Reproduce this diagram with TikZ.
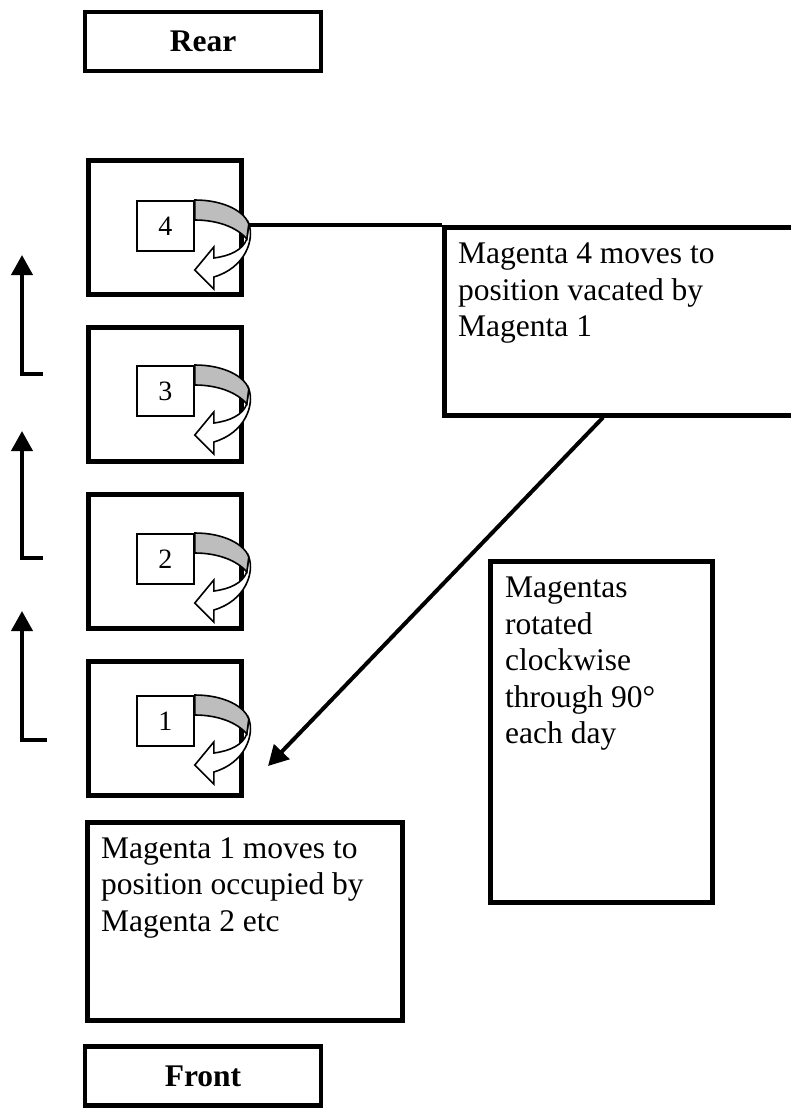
\documentclass[tikz,border=0pt]{standalone}
\usepackage{fontspec}
\setmainfont{Liberation Serif}
\usepackage{tikz}
\usetikzlibrary{arrows.meta, positioning, calc}
\definecolor{mgray}{HTML}{BDBDBD}
\tikzset{
  endbox/.style={draw, line width=4.5pt, minimum width=236pt, minimum height=59pt,
                 inner sep=0pt, font=\fontsize{31.5}{36.5}\selectfont\bfseries},
  square/.style={draw, line width=4.5pt, minimum width=153pt, minimum height=134pt,
                 anchor=north west, inner sep=0pt},
  tag/.style={draw, line width=1.8pt, minimum width=57pt, minimum height=50pt,
              anchor=north west, inner sep=0pt, font=\fontsize{28}{30}\selectfont},
  notebox/.style={draw, line width=4.5pt, anchor=north west, inner sep=0pt},
  notetext/.style={anchor=north west, inner sep=0pt, align=left,
                   font=\fontsize{31.5}{36.5}\selectfont},
  moveline/.style={line width=4pt},
  movearrow/.style={line width=4pt, -{Triangle[length=20pt, width=21pt]}},
  turngray/.style={draw=black, fill=mgray, line width=1.6pt},
  turnback/.style={draw=black, fill=white, line width=1.6pt},
}
% curved turn arrow, #1 = north east corner of a tag box
\newcommand{\turnarrow}[2]{%
  \begin{scope}[shift={(#1)}]
    \filldraw[turnback] (54,24) .. controls (60,40) and (50,68) .. (19,77)
      -- (19,89) -- (0,70) -- (19,47) -- (19,58)
      .. controls (35,56) and (48,50) .. (52,39) -- cycle;
    \filldraw[turngray] (0,0) .. controls (30,0) and (50,12) .. (54,24)
      -- (52,39) .. controls (42,27) and (22,20) .. (0,20) -- cycle;
    \coordinate (#2) at (54,25);
  \end{scope}}

\begin{document}
\begin{tikzpicture}[x=1pt, y=-1pt]
  \useasboundingbox (0,0) rectangle (790,1111);

  \node[endbox] (rear) at (203,41.5) {Rear};
  \node[endbox] (front) at (203,1076) {Front};

  % the four positions
  \node[square] (sq4) at (86,158) {};
  \node[square] (sq3) at (86,325) {};
  \node[square] (sq2) at (86,492) {};
  \node[square] (sq1) at (86,659) {};

  \node[tag] (mag4) at (136,200) {4};
  \node[tag] (mag3) at (136,365) {3};
  \node[tag] (mag2) at (136,533) {2};
  \node[tag] (mag1) at (136,695) {1};

  \turnarrow{mag4.north east}{turn4}
  \turnarrow{mag3.north east}{turn3}
  \turnarrow{mag2.north east}{turn2}
  \turnarrow{mag1.north east}{turn1}

  % notes
  \node[notebox, minimum width=350pt, minimum height=188pt] (move4) at (442,225) {};
  \node[notetext] (move4txt) at (458,243)
    {Magenta 4 moves to\\position vacated by\\Magenta 1};

  \node[notebox, minimum width=222pt, minimum height=341pt] (rotate) at (488,559) {};
  \node[notetext] (rotatetxt) at (505,577)
    {Magentas\\rotated\\clockwise\\through 90°\\each day};

  \node[notebox, minimum width=315pt, minimum height=198pt] (move1) at (85,820) {};
  \node[notetext] (move1txt) at (101,837)
    {Magenta 1 moves to\\position occupied by\\Magenta 2 etc};

  \draw[moveline] (turn4) -- (move4.north west);
  \coordinate (land1) at (268,766);
  \draw[movearrow] ($(move4.south west)+(161,0)$) -- (land1);

  % shifts towards the rear
  \foreach \k/\ytip/\yfoot/\xfoot in {1/255/374/43, 2/431/558/43, 3/611/740/47} {
    \coordinate (foot\k) at (\xfoot,\yfoot);
    \coordinate (tip\k) at (22,\ytip);
    \draw[movearrow] (foot\k) -| (tip\k);
  }
\end{tikzpicture}
\end{document}
